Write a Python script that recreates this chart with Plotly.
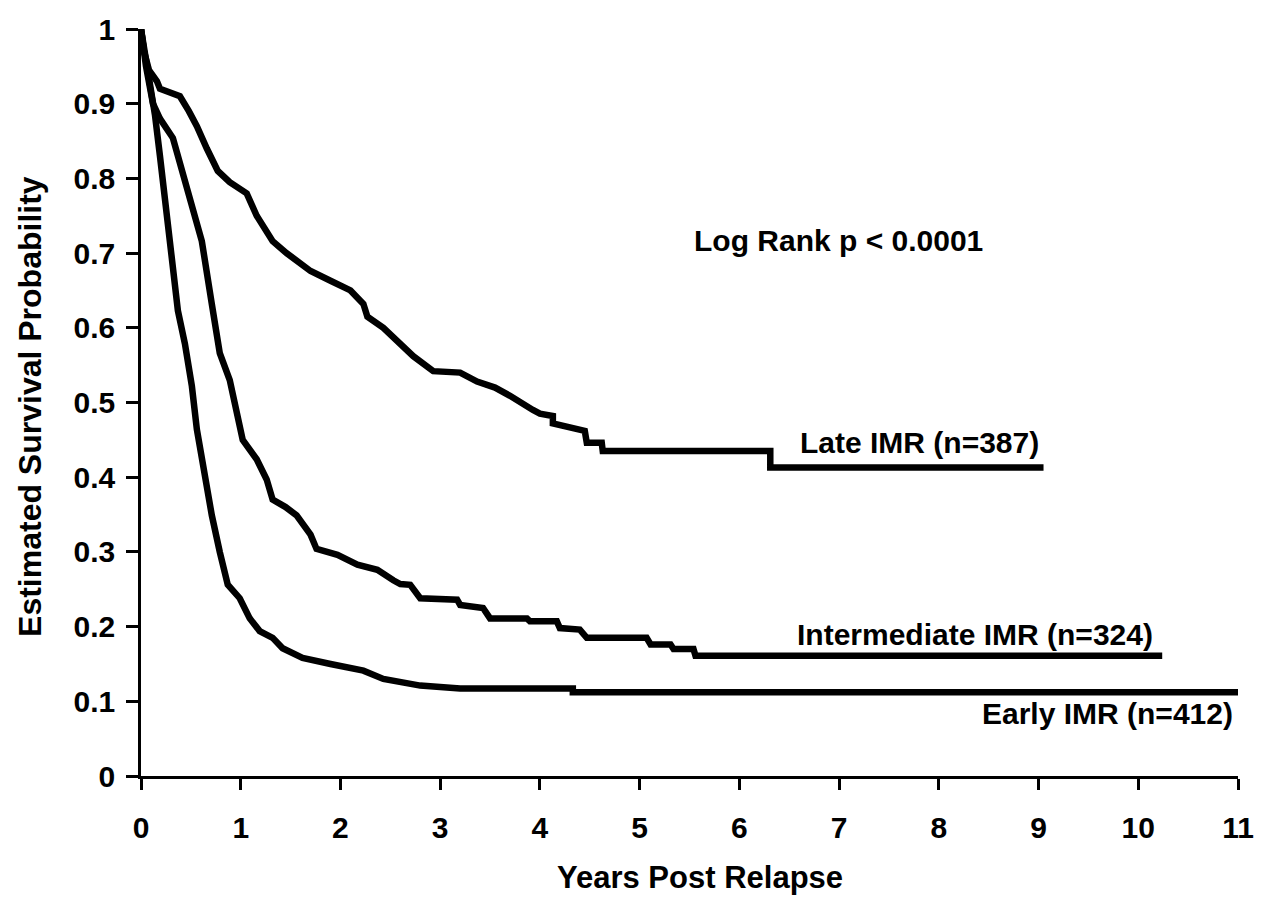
import plotly.graph_objects as go

# ---- data ----
late_t = [0, 0.03, 0.08, 0.16, 0.19, 0.39, 0.48, 0.56, 0.66, 0.77, 0.89, 1.06, 1.16, 1.32, 1.46, 1.70, 1.90, 2.10,
          2.23, 2.27, 2.43, 2.63, 2.73, 2.93, 3.20, 3.37, 3.55, 3.70, 3.80, 3.93, 4.00, 4.13, 4.13, 4.30, 4.45, 4.47,
          4.62, 4.63, 6.31, 6.31, 9.05]
late_s = [1.0, 0.97, 0.945, 0.93, 0.92, 0.91, 0.89, 0.87, 0.84, 0.81, 0.795, 0.78, 0.75, 0.716, 0.70, 0.676, 0.663, 0.65,
          0.632, 0.615, 0.60, 0.575, 0.562, 0.542, 0.54, 0.528, 0.52, 0.509, 0.50, 0.49, 0.485, 0.482, 0.472, 0.466, 0.462, 0.446,
          0.446, 0.435, 0.435, 0.413, 0.413]

int_t = [0, 0.05, 0.12, 0.19, 0.32, 0.42, 0.52, 0.61, 0.71, 0.79, 0.89, 1.02, 1.16, 1.26, 1.32, 1.45, 1.56, 1.70, 1.76,
         1.97, 2.17, 2.37, 2.53, 2.60, 2.70, 2.80, 3.17, 3.20, 3.43, 3.50, 3.87, 3.90, 4.17, 4.20, 4.40, 4.47, 5.07,
         5.11, 5.31, 5.34, 5.54, 5.56, 10.24]
int_s = [1.0, 0.95, 0.90, 0.88, 0.854, 0.805, 0.76, 0.716, 0.632, 0.566, 0.53, 0.45, 0.424, 0.397, 0.37, 0.36, 0.349, 0.323, 0.304,
         0.296, 0.283, 0.276, 0.262, 0.257, 0.256, 0.238, 0.236, 0.229, 0.225, 0.211, 0.211, 0.207, 0.207, 0.198, 0.196, 0.185, 0.185,
         0.176, 0.176, 0.170, 0.170, 0.161, 0.161]

early_t = [0, 0.05, 0.09, 0.14, 0.19, 0.22, 0.26, 0.29, 0.34, 0.37, 0.44, 0.51, 0.56, 0.64, 0.71, 0.79, 0.87, 0.99, 1.09,
           1.19, 1.32, 1.42, 1.62, 1.90, 2.23, 2.43, 2.60, 2.80, 3.20, 4.33, 4.33, 11.0]
early_s = [1.0, 0.96, 0.93, 0.885, 0.83, 0.795, 0.76, 0.716, 0.663, 0.623, 0.579, 0.522, 0.464, 0.397, 0.349, 0.30, 0.256, 0.238, 0.211,
           0.194, 0.185, 0.171, 0.158, 0.15, 0.141, 0.13, 0.125, 0.121, 0.117, 0.117, 0.112, 0.112]

series_names = ["Late IMR (n=387)", "Intermediate IMR (n=324)", "Early IMR (n=412)"]

x_ticks = list(range(0, 12))
y_tickvals = [i / 10 for i in range(0, 11)]
y_ticktext = ["0", "0.1", "0.2", "0.3", "0.4", "0.5", "0.6", "0.7", "0.8", "0.9", "1"]

FONT = "Liberation Sans, Arial, sans-serif"

fig = go.Figure()
for t, s, name in [(late_t, late_s, series_names[0]),
                   (int_t, int_s, series_names[1]),
                   (early_t, early_s, series_names[2])]:
    fig.add_trace(go.Scatter(x=t, y=s, mode="lines", name=name,
                             line=dict(color="black", width=6.5, shape="linear"),
                             showlegend=False))

fig.update_layout(
    width=1274, height=901,
    margin=dict(l=141, r=36, t=23, b=125),
    paper_bgcolor="white", plot_bgcolor="white",
    font=dict(family=FONT, color="black"),
)

fig.update_xaxes(
    range=[0, 11], tickvals=x_ticks, ticktext=[str(v) for v in x_ticks],
    showgrid=False, zeroline=False, showline=True, linecolor="black", linewidth=2.5,
    ticks="outside", ticklen=11, tickwidth=2.5, tickcolor="black",
    tickfont=dict(family=FONT, size=30, color="black", weight="bold"),
    ticklabelstandoff=12,
)
fig.update_yaxes(
    range=[0, 1], tickvals=y_tickvals, ticktext=y_ticktext,
    showgrid=False, zeroline=False, showline=True, linecolor="black", linewidth=2.5,
    ticks="outside", ticklen=12, tickwidth=2.5, tickcolor="black",
    tickfont=dict(family=FONT, size=30, color="black", weight="bold"),
    ticklabelstandoff=5,
)

bold = dict(family=FONT, size=30, color="black", weight="bold")
annos = [
    dict(text="Log Rank p < 0.0001", x=6.99, y=0.717, xanchor="center", yanchor="middle"),
    dict(text=series_names[0], x=9.02, y=0.447, xanchor="right", yanchor="middle"),
    dict(text=series_names[1], x=10.17, y=0.190, xanchor="right", yanchor="middle"),
    dict(text=series_names[2], x=10.97, y=0.084, xanchor="right", yanchor="middle"),
]
for a in annos:
    fig.add_annotation(xref="x", yref="y", showarrow=False, font=bold, **a)

# axis titles
fig.add_annotation(text="Years Post Relapse", xref="paper", yref="paper",
                   x=(700 - 141) / 1097, y=(776 - 878) / 753, xanchor="center", yanchor="middle",
                   showarrow=False, font=dict(family=FONT, size=31, color="black", weight="bold"))
fig.add_annotation(text="Estimated Survival Probability", xref="paper", yref="paper",
                   x=(30 - 141) / 1097, y=(776 - 404) / 753, xanchor="center", yanchor="middle",
                   textangle=-90, showarrow=False,
                   font=dict(family=FONT, size=32, color="black", weight="bold"))

fig.write_html("out.html")
